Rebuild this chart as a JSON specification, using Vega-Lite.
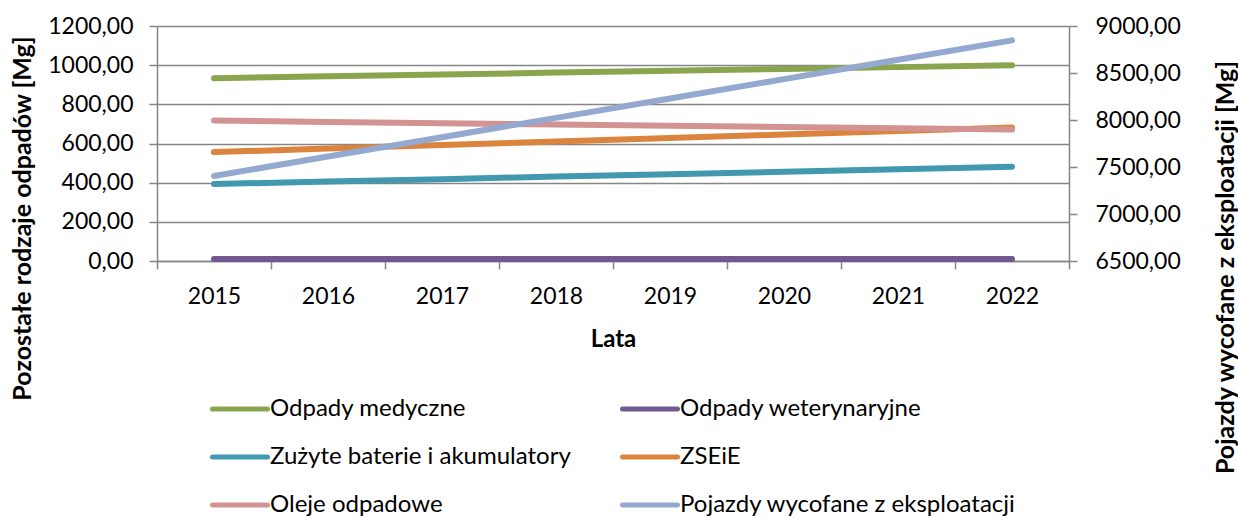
{
  "$schema": "https://vega.github.io/schema/vega-lite/v6.json",
  "width": 912,
  "height": 235,
  "autosize": {"type": "none"},
  "padding": {"left": 157, "top": 26, "right": 169, "bottom": 256},
  "background": "white",
  "config": {
    "locale": {"number": {"decimal": ",", "thousands": " ", "grouping": [3], "currency": ["", ""]}},
    "font": "Lato",
    "view": {"stroke": null},
    "axis": {"labelFont": "Lato", "titleFont": "Lato", "labelColor": "#000000", "titleColor": "#000000"}
  },
  "data": {
    "values": [
      {"year": "2015", "series": "Odpady medyczne", "value": 933},
      {"year": "2016", "series": "Odpady medyczne", "value": 943},
      {"year": "2017", "series": "Odpady medyczne", "value": 952},
      {"year": "2018", "series": "Odpady medyczne", "value": 962},
      {"year": "2019", "series": "Odpady medyczne", "value": 971},
      {"year": "2020", "series": "Odpady medyczne", "value": 981},
      {"year": "2021", "series": "Odpady medyczne", "value": 990},
      {"year": "2022", "series": "Odpady medyczne", "value": 1000},
      {"year": "2015", "series": "Odpady weterynaryjne", "value": 10},
      {"year": "2016", "series": "Odpady weterynaryjne", "value": 10},
      {"year": "2017", "series": "Odpady weterynaryjne", "value": 10},
      {"year": "2018", "series": "Odpady weterynaryjne", "value": 10},
      {"year": "2019", "series": "Odpady weterynaryjne", "value": 10},
      {"year": "2020", "series": "Odpady weterynaryjne", "value": 10},
      {"year": "2021", "series": "Odpady weterynaryjne", "value": 10},
      {"year": "2022", "series": "Odpady weterynaryjne", "value": 10},
      {"year": "2015", "series": "Zużyte baterie i akumulatory", "value": 393},
      {"year": "2016", "series": "Zużyte baterie i akumulatory", "value": 406},
      {"year": "2017", "series": "Zużyte baterie i akumulatory", "value": 418},
      {"year": "2018", "series": "Zużyte baterie i akumulatory", "value": 431},
      {"year": "2019", "series": "Zużyte baterie i akumulatory", "value": 443},
      {"year": "2020", "series": "Zużyte baterie i akumulatory", "value": 456},
      {"year": "2021", "series": "Zużyte baterie i akumulatory", "value": 468},
      {"year": "2022", "series": "Zużyte baterie i akumulatory", "value": 481},
      {"year": "2015", "series": "ZSEiE", "value": 556},
      {"year": "2016", "series": "ZSEiE", "value": 574},
      {"year": "2017", "series": "ZSEiE", "value": 592},
      {"year": "2018", "series": "ZSEiE", "value": 610},
      {"year": "2019", "series": "ZSEiE", "value": 628},
      {"year": "2020", "series": "ZSEiE", "value": 646},
      {"year": "2021", "series": "ZSEiE", "value": 664},
      {"year": "2022", "series": "ZSEiE", "value": 682},
      {"year": "2015", "series": "Oleje odpadowe", "value": 717},
      {"year": "2016", "series": "Oleje odpadowe", "value": 710},
      {"year": "2017", "series": "Oleje odpadowe", "value": 704},
      {"year": "2018", "series": "Oleje odpadowe", "value": 697},
      {"year": "2019", "series": "Oleje odpadowe", "value": 691},
      {"year": "2020", "series": "Oleje odpadowe", "value": 684},
      {"year": "2021", "series": "Oleje odpadowe", "value": 678},
      {"year": "2022", "series": "Oleje odpadowe", "value": 671},
      {"year": "2015", "series": "Pojazdy wycofane z eksploatacji", "value": 7405},
      {"year": "2016", "series": "Pojazdy wycofane z eksploatacji", "value": 7611},
      {"year": "2017", "series": "Pojazdy wycofane z eksploatacji", "value": 7817},
      {"year": "2018", "series": "Pojazdy wycofane z eksploatacji", "value": 8023},
      {"year": "2019", "series": "Pojazdy wycofane z eksploatacji", "value": 8229},
      {"year": "2020", "series": "Pojazdy wycofane z eksploatacji", "value": 8435},
      {"year": "2021", "series": "Pojazdy wycofane z eksploatacji", "value": 8641},
      {"year": "2022", "series": "Pojazdy wycofane z eksploatacji", "value": 8847}
    ]
  },
  "encoding": {
    "x": {
      "field": "year",
      "type": "ordinal",
      "scale": {"paddingInner": 0, "paddingOuter": 0},
      "axis": {
        "title": "Lata",
        "titleFontSize": 24,
        "titleFontWeight": "bold",
        "titlePadding": 19,
        "labelAngle": 0,
        "labelFontSize": 23,
        "labelPadding": 16,
        "tickBand": "extent",
        "tickSize": 8,
        "tickColor": "#868686",
        "tickWidth": 1.5,
        "domainColor": "#868686",
        "domainWidth": 1.5,
        "grid": false
      }
    },
    "color": {
      "field": "series",
      "type": "nominal",
      "scale": {
        "domain": ["Odpady medyczne", "Odpady weterynaryjne", "Zużyte baterie i akumulatory", "ZSEiE", "Oleje odpadowe", "Pojazdy wycofane z eksploatacji"],
        "range": ["#89A54E", "#71588F", "#4198AF", "#DB843D", "#D39393", "#93A9CF"]
      },
      "legend": {
        "title": null,
        "orient": "none",
        "direction": "horizontal",
        "legendX": 53,
        "legendY": 353,
        "columns": 2,
        "columnPadding": 41,
        "rowPadding": 6,
        "symbolType": "stroke",
        "symbolSize": 3025,
        "symbolStrokeWidth": 5,
        "labelFontSize": 24,
        "labelFont": "Lato",
        "labelOffset": 0,
        "labelLimit": 500,
        "encode": {"symbols": {"update": {"strokeCap": {"value": "round"}}}}
      }
    }
  },
  "layer": [
    {
      "transform": [{"filter": "datum.series !== 'Pojazdy wycofane z eksploatacji'"}],
      "mark": {"type": "line", "strokeWidth": 6, "strokeCap": "round"},
      "encoding": {
        "y": {
          "field": "value",
          "type": "quantitative",
          "scale": {"domain": [0, 1200], "nice": false},
          "axis": {
            "title": "Pozostałe rodzaje odpadów [Mg]",
            "titleFontSize": 25,
            "titleFontWeight": "bold",
            "titleAngle": 270,
            "titleX": -135,
            "titleY": 192,
            "titleAlign": "center",
            "titleBaseline": "middle",
            "values": [0, 200, 400, 600, 800, 1000, 1200],
            "format": ".2f",
            "labelFontSize": 23,
            "labelPadding": 16,
            "tickSize": 8,
            "tickColor": "#868686",
            "tickWidth": 1.5,
            "domainColor": "#868686",
            "domainWidth": 1.5,
            "grid": true,
            "gridColor": "#868686",
            "gridWidth": 1.5
          }
        }
      }
    },
    {
      "transform": [{"filter": "datum.series === 'Pojazdy wycofane z eksploatacji'"}],
      "mark": {"type": "line", "strokeWidth": 6, "strokeCap": "round"},
      "encoding": {
        "y": {
          "field": "value",
          "type": "quantitative",
          "scale": {"domain": [6500, 9000], "nice": false, "zero": false},
          "axis": {
            "orient": "right",
            "title": "Pojazdy wycofane z eksploatacji [Mg]",
            "titleFontSize": 25,
            "titleFontWeight": "bold",
            "titleAngle": 270,
            "titleX": 156,
            "titleY": 241,
            "titleAlign": "center",
            "titleBaseline": "middle",
            "values": [6500, 7000, 7500, 8000, 8500, 9000],
            "format": ".2f",
            "labelFontSize": 23,
            "labelPadding": 18,
            "tickSize": 8,
            "tickColor": "#868686",
            "tickWidth": 1.5,
            "domainColor": "#868686",
            "domainWidth": 1.5,
            "grid": false
          }
        }
      }
    }
  ],
  "resolve": {"scale": {"y": "independent"}}
}
